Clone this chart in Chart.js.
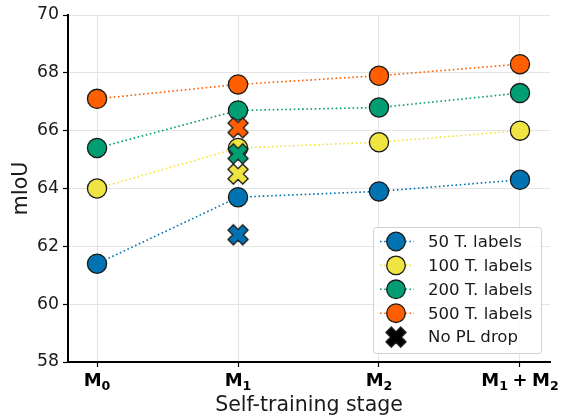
<!DOCTYPE html>
<html>
<head>
<meta charset="utf-8">
<script src="https://cdn.jsdelivr.net/npm/chart.js@4"></script>
<style>
  html, body { margin: 0; padding: 0; background: #fff; }
  #wrap { width: 564px; height: 418px; }
</style>
</head>
<body>
<div id="wrap"><canvas id="chart" width="564" height="418"></canvas></div>
<script>
// stages on the x axis: [main, subscript] pieces, joined by ' + '
const stages = [[['M', '0']], [['M', '1']], [['M', '2']], [['M', '1'], ['M', '2']]];
const yTicks = [58, 60, 62, 64, 66, 68, 70];

// mIoU per number of target labels
const labels50 = [61.4, 63.7, 63.9, 64.3];
const labels100 = [64.0, 65.4, 65.6, 66.0];
const labels200 = [65.4, 66.7, 66.8, 67.3];
const labels500 = [67.1, 67.6, 67.9, 68.3];

// "No PL drop" runs, all at M1
const noDrop50 = 62.4;
const noDrop100 = 64.5;
const noDrop200 = 65.2;
const noDrop500 = 66.1;

const seriesNames = ['50 T. labels', '100 T. labels', '200 T. labels', '500 T. labels'];
const colors = ['#0173b2', '#f0e442', '#029e73', '#ff5f00'];

const FONT = "'DejaVu Sans', sans-serif";

// filled X marker with a dark edge, like matplotlib's 'X'
function makeX(fill) {
    const s = 26;
    const c = document.createElement('canvas');
    c.width = s; c.height = s;
    const ctx = c.getContext('2d');
    const h = 10.4, w = 3.8;
    ctx.translate(s / 2, s / 2);
    ctx.rotate(Math.PI / 4);
    ctx.beginPath();
    ctx.moveTo(-w, -h); ctx.lineTo(w, -h); ctx.lineTo(w, -w); ctx.lineTo(h, -w);
    ctx.lineTo(h, w); ctx.lineTo(w, w); ctx.lineTo(w, h); ctx.lineTo(-w, h);
    ctx.lineTo(-w, w); ctx.lineTo(-h, w); ctx.lineTo(-h, -w); ctx.lineTo(-w, -w);
    ctx.closePath();
    ctx.fillStyle = fill;
    ctx.fill();
    ctx.lineWidth = 1.3;
    ctx.strokeStyle = '#1a1a1a';
    ctx.stroke();
    return c;
}

function toPoints(arr) {
    return arr.map((v, i) => ({ x: i, y: v }));
}

const lineSeries = [labels50, labels100, labels200, labels500];
const noDrop = [noDrop50, noDrop100, noDrop200, noDrop500];

const datasets = [];
// first dataset is drawn on top in Chart.js, so X markers go first
for (let i = 3; i >= 0; i--) {
    datasets.push({
        label: 'No PL drop',
        data: [{ x: 1, y: noDrop[i] }],
        showLine: false,
        pointStyle: makeX(colors[i]),
        pointRadius: 13
    });
}
for (let i = 3; i >= 0; i--) {
    datasets.push({
        label: seriesNames[i],
        data: toPoints(lineSeries[i]),
        showLine: true,
        borderColor: colors[i],
        borderWidth: 1.6,
        borderDash: [1.6, 2.6],
        pointStyle: 'circle',
        pointRadius: 9.6,
        pointBackgroundColor: colors[i],
        pointBorderColor: '#1a1a1a',
        pointBorderWidth: 1.3
    });
}

// x tick labels with real subscripts, drawn like mathtext
const stageLabels = {
    id: 'stageLabels',
    afterDraw(chart) {
        const ctx = chart.ctx;
        const scale = chart.scales.x;
        const big = 'bold 18px ' + FONT;
        const small = 'bold 12.6px ' + FONT;
        ctx.save();
        ctx.fillStyle = '#000';
        ctx.textBaseline = 'alphabetic';
        stages.forEach((parts, i) => {
            const pieces = [];
            parts.forEach((p, k) => {
                if (k > 0) pieces.push({ t: '+', f: big, dy: 0, gap: 4.5 });
                pieces.push({ t: p[0], f: big, dy: 0, gap: 0 });
                pieces.push({ t: p[1], f: small, dy: 4, gap: 0 });
            });
            let total = 0;
            pieces.forEach(pc => {
                ctx.font = pc.f;
                pc.w = ctx.measureText(pc.t).width;
                total += pc.w + pc.gap * 2;
            });
            let x = scale.getPixelForValue(i) - total / 2;
            const base = 386;
            pieces.forEach(pc => {
                ctx.font = pc.f;
                x += pc.gap;
                ctx.fillText(pc.t, x, base + pc.dy);
                x += pc.w + pc.gap;
            });
        });
        ctx.restore();
    }
};

// legend drawn by hand so the handle shows line + marker
const legendPlugin = {
    id: 'mplLegend',
    afterDraw(chart) {
        const ctx = chart.ctx;
        const x0 = 373, y0 = 227, w = 168, h = 126;
        ctx.save();
        ctx.fillStyle = 'rgba(255,255,255,0.8)';
        ctx.strokeStyle = '#d0d0d0';
        ctx.lineWidth = 1;
        ctx.beginPath();
        ctx.roundRect(x0 + 0.5, y0 + 0.5, w, h, 3);
        ctx.fill();
        ctx.stroke();
        ctx.font = '16.6px ' + FONT;
        ctx.textBaseline = 'middle';
        for (let i = 0; i < 5; i++) {
            const y = y0 + 14.5 + i * 23.9;
            if (i < 4) {
                ctx.strokeStyle = colors[i];
                ctx.lineWidth = 1.6;
                ctx.setLineDash([1.6, 2.6]);
                ctx.beginPath();
                ctx.moveTo(380, y); ctx.lineTo(414, y);
                ctx.stroke();
                ctx.setLineDash([]);
                ctx.beginPath();
                ctx.arc(396, y, 9.3, 0, Math.PI * 2);
                ctx.fillStyle = colors[i];
                ctx.fill();
                ctx.strokeStyle = '#1a1a1a';
                ctx.lineWidth = 1.3;
                ctx.stroke();
            } else {
                const m = makeX('#000');
                ctx.drawImage(m, 396 - 13, y - 13);
            }
            ctx.fillStyle = '#1a1a1a';
            ctx.fillText(i < 4 ? seriesNames[i] : 'No PL drop', 428, y + 1);
        }
        ctx.restore();
    }
};

new Chart(document.getElementById('chart'), {
    type: 'scatter',
    data: { datasets: datasets },
    options: {
        responsive: false,
        animation: false,
        layout: { padding: { top: 15, right: 14, left: 0, bottom: 0 } },
        plugins: {
            legend: { display: false },
            tooltip: { enabled: false }
        },
        scales: {
            x: {
                type: 'linear',
                min: -0.206,
                max: 3.213,
                afterBuildTicks: (axis) => { axis.ticks = stages.map((s, i) => ({ value: i })); },
                afterFit: (axis) => { axis.height = 56; },
                ticks: {
                    callback: () => '',
                    font: { family: FONT, size: 18, weight: 'bold' },
                    padding: 4,
                    maxRotation: 0,
                    autoSkip: false
                },
                grid: {
                    color: '#e4e4e4',
                    lineWidth: 1,
                    borderDash: [3, 3],
                    tickColor: '#000',
                    tickLength: 5,
                    tickWidth: 1.2,
                    tickBorderDash: []
                },
                border: { display: true, color: '#000', width: 2 },
                title: {
                    display: true,
                    text: 'Self-training stage',
                    color: '#1a1a1a',
                    font: { family: FONT, size: 20.5 },
                    padding: { top: -4, bottom: 0 }
                }
            },
            y: {
                min: 58,
                max: 70,
                afterBuildTicks: (axis) => { axis.ticks = yTicks.map(v => ({ value: v })); },
                afterFit: (axis) => { axis.width = 68; },
                ticks: {
                    color: '#1a1a1a',
                    font: { family: FONT, size: 17.3 },
                    padding: 4
                },
                grid: {
                    color: '#e4e4e4',
                    lineWidth: 1,
                    borderDash: [3, 3],
                    tickColor: '#000',
                    tickLength: 5,
                    tickWidth: 1.2,
                    tickBorderDash: []
                },
                border: { display: true, color: '#000', width: 2 },
                title: {
                    display: true,
                    text: 'mIoU',
                    color: '#1a1a1a',
                    font: { family: FONT, size: 20.5 },
                    padding: { top: 9, bottom: 0 }
                }
            }
        }
    },
    plugins: [stageLabels, legendPlugin]
});
</script>
</body>
</html>
